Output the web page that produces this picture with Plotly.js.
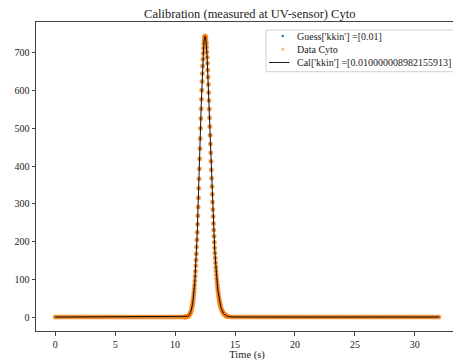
<!DOCTYPE html>
<html>
<head>
<meta charset="utf-8">
<script src="https://cdn.plot.ly/plotly-3.0.1.min.js"></script>
<style>
html,body{margin:0;padding:0;overflow:hidden;background:#fff;width:453px;height:361px;}
#chart{width:460px;height:361px;}
</style>
</head>
<body>
<div id="chart"></div>
<script>
// time (s)
const timeS = [
0,0.25,0.5,0.75,1,1.25,1.5,1.75,2,2.25,2.5,2.75,3,3.25,3.5,3.75,4,4.25,4.5,4.75,5,5.25,5.5,5.75,6,6.25,6.5,6.75,7,7.25,7.5,7.75,8,8.25,8.5,8.75,9,9.25,9.5,9.75,10,10.25,10.5,10.75,
10.8,10.85,10.9,10.95,11,11.05,11.1,11.15,11.2,11.25,11.3,11.35,
11.4,11.425,11.45,11.475,11.5,11.525,11.55,11.575,11.6,11.625,11.65,11.675,11.7,11.725,11.75,11.775,11.8,11.825,11.85,11.875,11.9,11.925,11.95,11.975,
12,12.025,12.05,12.075,12.1,12.125,12.15,12.175,12.2,12.225,12.25,12.275,12.3,12.325,12.35,12.375,12.4,12.425,12.45,12.475,
12.5,12.525,12.55,12.575,12.6,12.625,12.65,12.675,12.7,12.725,12.75,12.775,12.8,12.825,12.85,12.875,12.9,12.925,12.95,12.975,
13,13.025,13.05,13.075,13.1,13.125,13.15,13.175,13.2,13.225,13.25,13.275,13.3,13.325,13.35,13.375,13.4,13.425,13.45,13.475,
13.5,13.525,13.55,13.575,13.6,13.625,13.65,13.675,13.7,13.725,13.75,13.775,13.8,
13.85,13.9,13.95,14,14.05,14.1,14.15,14.2,14.25,14.3,14.35,14.4,
14.5,14.75,15,15.25,15.5,15.75,16,16.25,16.5,16.75,17,17.25,17.5,17.75,18,18.25,18.5,18.75,19,19.25,19.5,19.75,
20,20.25,20.5,20.75,21,21.25,21.5,21.75,22,22.25,22.5,22.75,23,23.25,23.5,23.75,24,24.25,24.5,24.75,
25,25.25,25.5,25.75,26,26.25,26.5,26.75,27,27.25,27.5,27.75,28,28.25,28.5,28.75,29,29.25,29.5,29.75,
30,30.25,30.5,30.75,31,31.25,31.5,31.75,32
];
// measured signal, Data Cyto
const dataCyto = [
0,0,0,0,0,0,0,0,0,0,0,0,0,0,0,0,0,0,0,0,0,0,0,0,0,0,0,0,0,0,0,0,0,0,0,0,0,0,0,0,0,0,0,0.1,
0.2,0.3,0.5,0.8,1.3,1.9,2.9,4.3,6.2,8.9,12.6,17.5,
24.1,28.2,32.7,37.9,43.7,50.3,57.7,65.9,75.0,85.1,96.1,108.2,121.4,135.8,151.2,167.9,185.8,204.8,224.9,246.2,268.5,291.8,316.1,341.1,
366.8,393.0,419.7,446.5,473.4,500.1,526.5,552.2,577.2,601.3,624.0,645.4,665.1,683.1,699.0,712.7,724.2,733.2,739.7,743.7,
745.0,743.7,740.1,734.0,725.7,715.2,702.8,688.5,672.5,655.0,636.2,616.3,595.4,573.7,551.3,528.5,505.3,482.1,458.8,435.6,
412.7,390.1,367.9,346.3,325.2,304.8,285.1,266.2,248.1,230.7,214.2,198.5,183.6,169.6,156.3,143.9,132.2,121.3,111.1,101.6,
92.8,84.7,77.1,70.1,63.7,57.8,52.3,47.4,42.8,38.6,34.8,31.3,28.2,
22.7,18.3,14.6,11.6,9.2,7.3,5.8,4.5,3.5,2.7,2.1,1.6,
0.9,0.4,0.2,0.1,0,0,0,0,0,0,0,0,0,0,0,0,0,0,0,0,0,0,
0,0,0,0,0,0,0,0,0,0,0,0,0,0,0,0,0,0,0,0,
0,0,0,0,0,0,0,0,0,0,0,0,0,0,0,0,0,0,0,0,
0,0,0,0,0,0,0,0,0
];
// model with guess kkin = 0.01 and calibrated kkin (visually identical to data)
const guessVals = dataCyto.slice();
const calVals = dataCyto.slice();

const titleText = "Calibration (measured at UV-sensor) Cyto";
const guessName = "Guess['kkin'] =[0.01]";
const dataName = "Data Cyto";
const calName = "Cal['kkin'] =[0.010000008982155913]";
const xTickVals = [0,5,10,15,20,25,30];
const yTickVals = [0,100,200,300,400,500,600,700];

const font = '"Liberation Serif", "Times New Roman", Times, serif';
const axCol = "#444";
const blue = "#1f77b4";
const orange = "rgba(255,127,14,0.7)";

// plot area geometry (pixels) for placing the hand-drawn legend
const W = 460, H = 361, ML = 36, MR = 2, MT = 22, MB = 30;
const PW = W - ML - MR, PH = H - MT - MB;
const px = v => (v - ML) / PW;
const py = v => (H - MB - v) / PH;

const traces = [
  {x: timeS, y: guessVals, name: guessName, type: "scatter", mode: "markers",
   marker: {color: blue, size: 3}, showlegend: false},
  {x: timeS, y: dataCyto, name: dataName, type: "scatter", mode: "markers",
   marker: {color: orange, size: 5}, showlegend: false},
  {x: timeS, y: calVals, name: calName, type: "scatter", mode: "lines",
   line: {color: "#000", width: 0.9}, showlegend: false}
];

const rows = [36, 49.3, 62.5];
const legendNames = [guessName, dataName, calName];
const shapes = [
  {type: "rect", xref: "paper", yref: "paper", x0: px(266), x1: px(470), y0: py(71.7), y1: py(30),
   line: {color: "#d0d0d0", width: 1}, fillcolor: "rgba(255,255,255,0.8)", layer: "above"},
  {type: "circle", xref: "paper", yref: "paper", x0: px(281.5), x1: px(284), y0: py(rows[0] + 1.25), y1: py(rows[0] - 1.25),
   line: {width: 0}, fillcolor: blue, layer: "above"},
  {type: "circle", xref: "paper", yref: "paper", x0: px(281), x1: px(284.5), y0: py(rows[1] + 1.75), y1: py(rows[1] - 1.75),
   line: {width: 0}, fillcolor: "rgba(255,127,14,0.5)", layer: "above"},
  {type: "line", xref: "paper", yref: "paper", x0: px(269), x1: px(289.5), y0: py(rows[2]), y1: py(rows[2]),
   line: {color: "#000", width: 0.9}, layer: "above"}
];
const annotations = legendNames.map((t, i) => ({
  text: t, xref: "paper", yref: "paper", x: px(294.8), y: py(rows[i]),
  xanchor: "left", yanchor: "middle", showarrow: false,
  font: {family: font, size: 10, color: "#222"}
}));

const layout = {
  width: W, height: H,
  margin: {l: ML, r: MR, t: MT, b: MB},
  paper_bgcolor: "#fff", plot_bgcolor: "#fff",
  font: {family: font, size: 10, color: "#222"},
  title: {text: titleText, font: {family: font, size: 12.5, color: "#222"},
          x: 0.543, xanchor: "center", y: 0.962, yanchor: "middle", yref: "container"},
  xaxis: {range: [-1.6, 33.6], tickvals: xTickVals, ticks: "outside", ticklen: 3.5,
          tickcolor: axCol, showline: true, linecolor: axCol, linewidth: 1, mirror: true,
          showgrid: false, zeroline: false, tickfont: {family: font, size: 10},
          title: {text: "Time (s)", font: {family: font, size: 10.5}, standoff: 2}},
  yaxis: {range: [-37, 782], tickvals: yTickVals, ticks: "outside", ticklen: 3.5,
          tickcolor: axCol, showline: true, linecolor: axCol, linewidth: 1, mirror: true,
          showgrid: false, zeroline: false, tickfont: {family: font, size: 10}},
  showlegend: false,
  shapes: shapes,
  annotations: annotations
};

Plotly.newPlot("chart", traces, layout, {displayModeBar: false, staticPlot: true});
</script>
</body>
</html>
